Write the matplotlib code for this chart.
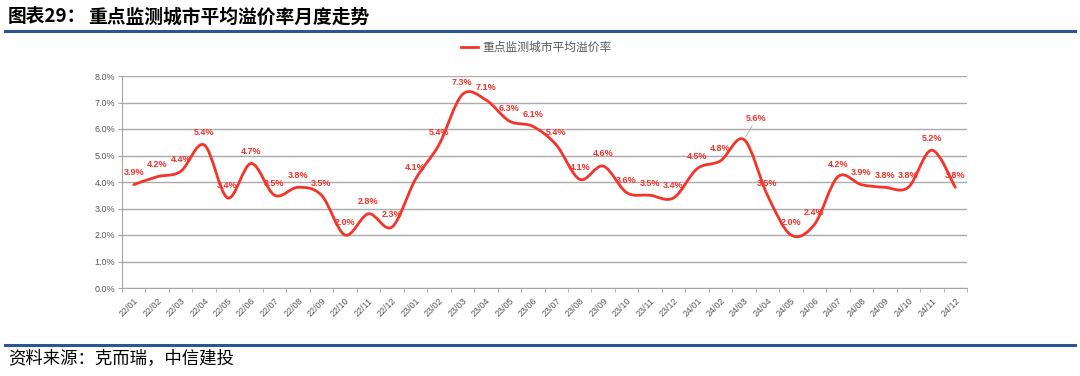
import matplotlib
matplotlib.use("Agg")
import matplotlib.pyplot as plt
import numpy as np
from matplotlib.path import Path
from matplotlib.patches import PathPatch
from matplotlib.lines import Line2D

plt.rcParams['font.family'] = ['Noto Sans CJK SC', 'DejaVu Sans']

months = ["22/01", "22/02", "22/03", "22/04", "22/05", "22/06", "22/07", "22/08", "22/09",
          "22/10", "22/11", "22/12", "23/01", "23/02", "23/03", "23/04", "23/05", "23/06",
          "23/07", "23/08", "23/09", "23/10", "23/11", "23/12", "24/01", "24/02", "24/03",
          "24/04", "24/05", "24/06", "24/07", "24/08", "24/09", "24/10", "24/11", "24/12"]
premium = [3.9, 4.2, 4.4, 5.4, 3.4, 4.7, 3.5, 3.8, 3.5, 2.0, 2.8, 2.3,
           4.1, 5.4, 7.3, 7.1, 6.3, 6.1, 5.4, 4.1, 4.6, 3.6, 3.5, 3.4,
           4.5, 4.8, 5.6, 3.5, 2.0, 2.4, 4.2, 3.9, 3.8, 3.8, 5.2, 3.8]
series_name = "重点监测城市平均溢价率"
title_num = "图表29："
title = "重点监测城市平均溢价率月度走势"
source = "资料来源：克而瑞，中信建投"
yticks = [0, 1, 2, 3, 4, 5, 6, 7, 8]

RED = '#F5332A'
GRAY = '#595959'
BLUE = '#2E5496'

fig = plt.figure(figsize=(10.8, 3.76), dpi=100)
ax = fig.add_axes([122/1080, 1-288/376, (967-122)/1080, (288-76)/376])

x = np.arange(len(premium))
y = np.array(premium, dtype=float)

# Smoothed line (Bezier curve through the data points, like Excel's smooth line)
verts = [(x[0], y[0])]
codes = [Path.MOVETO]
n = len(x)
for i in range(n - 1):
    p0 = np.array([x[max(i-1, 0)], y[max(i-1, 0)]])
    p1 = np.array([x[i], y[i]])
    p2 = np.array([x[i+1], y[i+1]])
    p3 = np.array([x[min(i+2, n-1)], y[min(i+2, n-1)]])
    c1 = p1 + (p2 - p0) / 6.0
    c2 = p2 - (p3 - p1) / 6.0
    verts += [tuple(c1), tuple(c2), tuple(p2)]
    codes += [Path.CURVE4, Path.CURVE4, Path.CURVE4]
patch = PathPatch(Path(verts, codes), facecolor='none', edgecolor=RED, lw=2.0,
                  capstyle='round', joinstyle='round', zorder=3)
ax.add_patch(patch)

ax.set_xlim(-0.5, len(premium) - 0.5)
ax.set_ylim(0, 8)
ax.set_yticks(yticks)
ax.set_yticklabels([f"{v:.1f}%" for v in yticks], fontsize=6.5, color=GRAY,
                   family=['Liberation Sans'])
ax.yaxis.grid(True, color='#ABABAB', lw=1.0)
ax.set_axisbelow(True)
ax.set_xticks(x)
ax.set_xticklabels(months, rotation=45, ha='right', va='top', rotation_mode='anchor',
                   fontsize=6.5, color=GRAY, family=['Liberation Sans'])
ax.tick_params(axis='x', which='major', length=0, pad=6)
ax.set_xticks(np.arange(-0.5, len(premium), 1), minor=True)
ax.tick_params(axis='x', which='minor', length=3, color='#A6A6A6')
ax.tick_params(axis='y', length=3, color='#A6A6A6', pad=2)
for s in ['top', 'right']:
    ax.spines[s].set_visible(False)
ax.spines['left'].set_color('#A6A6A6')
ax.spines['bottom'].set_color('#A6A6A6')

for i, v in enumerate(premium):
    if months[i] == "24/03":
        ax.annotate(f"{v:.1f}%", xy=(i, v), xytext=(9, 12), textcoords='offset points',
                    ha='center', va='bottom', fontsize=6.5, fontweight='bold', color=RED,
                    family=['Liberation Sans'],
                    arrowprops=dict(arrowstyle='-', color='#A6A6A6', lw=0.6,
                                    shrinkA=0, shrinkB=2))
    else:
        ax.annotate(f"{v:.1f}%", xy=(i, v), xytext=(0, 5.5), textcoords='offset points',
                    ha='center', va='bottom', fontsize=6.5, fontweight='bold', color=RED,
                    family=['Liberation Sans'])

# Legend
fig.add_artist(Line2D([461/1080, 478/1080], [1-47/376, 1-47/376], color=RED, lw=2.0))
fig.text(482/1080, 1-47/376, series_name, fontsize=8.5, color=GRAY, va='center', ha='left')

# Title and rules
fig.text(8/1080, 1-17/376, title_num, fontsize=13.5, fontweight='bold', color='black',
         va='center', ha='left')
fig.text(88/1080, 1-17/376, title, fontsize=13.5, fontweight='bold', color='black',
         va='center', ha='left')
fig.add_artist(Line2D([5/1080, 1075/1080], [1-30.5/376, 1-30.5/376], color=BLUE, lw=2.2))
fig.add_artist(Line2D([5/1080, 1075/1080], [1-345/376, 1-345/376], color=BLUE, lw=2.2))
fig.text(8/1080, 1-358/376, source, fontsize=12.5, color='black', va='center', ha='left')

fig.savefig("out.png", dpi=100)
